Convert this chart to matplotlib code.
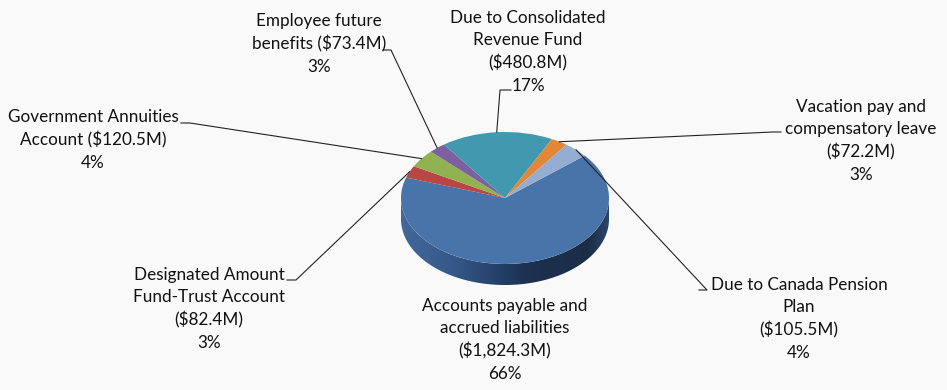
import matplotlib
matplotlib.use("Agg")
import matplotlib.pyplot as plt
import numpy as np
from matplotlib.transforms import Affine2D
from matplotlib.patches import Polygon
from matplotlib.colors import LinearSegmentedColormap

# data (clockwise from the start angle, Excel series order)
names = ["Accounts payable and\naccrued liabilities",
         "Designated Amount\nFund-Trust Account",
         "Government Annuities\nAccount",
         "Employee future\nbenefits",
         "Due to Consolidated\nRevenue Fund",
         "Vacation pay and\ncompensatory leave",
         "Due to Canada Pension\nPlan"]
values = [1824.3, 82.4, 120.5, 73.4, 480.8, 72.2, 105.5]
colors = ["#4874A9", "#B94644", "#91B250", "#7D60A0", "#4198AF", "#E28638", "#96ADD2"]

W, H = 947, 390
BG = "#f9f9f9"

# pie geometry in pixel units (image y measured from top)
cx, cy_img = 505, 198
rx, ry, depth = 104, 66, 21
cy = H - cy_img

# label layout: joiner before the amount, text centre, leader elbow (image coords)
joiners = ["\n", "\n", " ", " ", "\n", "\n", "\n"]
text_pos = [(505, 340), (209, 309), (93, 140), (319, 44), (528, 52), (861, 141), (799, 319)]
elbows = [None,
          [(287, 280), (296, 280)],
          [(181, 123), (190, 123)],
          [(383, 50), (391, 50)],
          [(511, 90), (500, 90)],
          [(781, 132), (773, 132)],
          [(699, 290), (707, 290)]]

fig = plt.figure(figsize=(W / 100, H / 100), dpi=100, facecolor=BG)
ax = fig.add_axes([0, 0, 1, 1])
ax.set_facecolor(BG)

squash = Affine2D().translate(-cx, -cy).scale(1, ry / rx).translate(cx, cy)
wedges, _ = ax.pie(values, colors=colors, startangle=40, counterclock=False,
                   center=(cx, cy), radius=rx,
                   wedgeprops=dict(linewidth=0, edgecolor="none"))
for w in wedges:
    w.set_transform(squash + ax.transData)
    w.set_zorder(3)

ax.set_aspect("auto")
ax.axis("off")

# side wall (front half of the cylinder)
side_cmap = LinearSegmentedColormap.from_list(
    "side", [(0, "#42689a"), (0.25, "#35588a"), (0.5, "#223d62"),
             (0.62, "#1c3050"), (0.9, "#1b2d46"), (1.0, "#2a4668")])
for w in wedges:
    t1, t2 = w.theta1, w.theta2
    for k in (-720, -360, 0, 360):
        lo, hi = max(t1 + k, -180), min(t2 + k, 0)
        if hi <= lo:
            continue
        t = np.radians(np.linspace(lo, hi, 200))
        top = np.column_stack([cx + rx * np.cos(t), cy + ry * np.sin(t)])
        bot = top[::-1] - [0, depth]
        poly = Polygon(np.vstack([top, bot]), closed=True, facecolor="none",
                       edgecolor="none", zorder=2)
        ax.add_patch(poly)
        grad = np.linspace(0, 1, 256).reshape(1, -1)
        im = ax.imshow(grad, cmap=side_cmap, aspect="auto", zorder=2,
                       extent=[cx - rx, cx + rx, cy - ry - depth, cy])
        im.set_clip_path(poly)
ax.set_xlim(0, W)
ax.set_ylim(0, H)

# labels and leader lines
total = sum(values)
for i, w in enumerate(wedges):
    pct = round(values[i] / total * 100)
    label = f"{names[i]}{joiners[i]}(${values[i]:,.1f}M)\n{pct}%"
    tx, ty = text_pos[i]
    ax.text(tx, H - ty, label, ha="center", va="center", fontsize=12.3,
            family=["Lato", "DejaVu Sans"], color="#111111", linespacing=1.48,
            zorder=5)
    if elbows[i] is not None:
        mid = np.radians((w.theta1 + w.theta2) / 2)
        ax_, ay_ = cx + rx * np.cos(mid), cy + ry * np.sin(mid)
        xs = [elbows[i][0][0], elbows[i][1][0], ax_]
        ys = [H - elbows[i][0][1], H - elbows[i][1][1], ay_]
        ax.plot(xs, ys, color="#222222", lw=0.8, zorder=4)

fig.savefig("out.png", dpi=100, facecolor=BG)
